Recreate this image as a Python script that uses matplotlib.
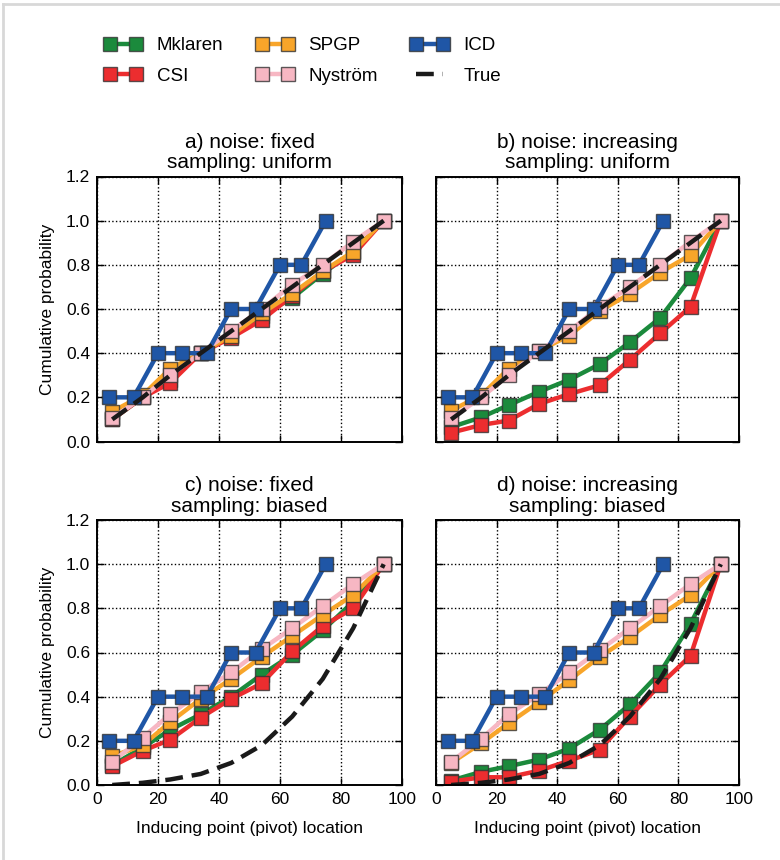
import matplotlib
matplotlib.use("Agg")
import matplotlib.pyplot as plt
from matplotlib.lines import Line2D

plt.rcParams['font.family'] = ['Liberation Sans', 'DejaVu Sans']

# pivot locations
x_piv = [5, 15, 24, 34, 44, 54, 64, 74, 84, 94]
x_icd = [4, 12, 20, 28, 36, 44, 52, 60, 67, 75]

icd = [0.2, 0.2, 0.4, 0.4, 0.4, 0.6, 0.6, 0.8, 0.8, 1.0]
true_unif = [0.1, 0.2, 0.3, 0.4, 0.5, 0.6, 0.7, 0.8, 0.9, 1.0]
true_bias = [0.0, 0.01, 0.025, 0.05, 0.10, 0.18, 0.31, 0.48, 0.71, 1.0]

# a) noise fixed, sampling uniform
mkl_a = [0.10, 0.20, 0.28, 0.40, 0.48, 0.57, 0.65, 0.76, 0.86, 1.0]
csi_a = [0.10, 0.20, 0.265, 0.40, 0.47, 0.55, 0.66, 0.77, 0.845, 1.0]
spgp_a = [0.135, 0.21, 0.33, 0.40, 0.48, 0.58, 0.67, 0.77, 0.86, 1.0]
nys_a = [0.105, 0.20, 0.30, 0.40, 0.50, 0.60, 0.71, 0.80, 0.905, 1.0]

# b) noise increasing, sampling uniform
mkl_b = [0.065, 0.11, 0.165, 0.225, 0.28, 0.35, 0.45, 0.56, 0.74, 1.0]
csi_b = [0.04, 0.075, 0.095, 0.17, 0.215, 0.255, 0.37, 0.49, 0.61, 1.0]
spgp_b = [0.14, 0.21, 0.33, 0.41, 0.48, 0.59, 0.67, 0.765, 0.845, 1.0]
nys_b = [0.105, 0.20, 0.30, 0.41, 0.50, 0.61, 0.70, 0.80, 0.905, 1.0]

# c) noise fixed, sampling biased
mkl_c = [0.09, 0.17, 0.25, 0.32, 0.40, 0.50, 0.59, 0.70, 0.83, 1.0]
csi_c = [0.085, 0.155, 0.205, 0.305, 0.39, 0.46, 0.605, 0.72, 0.80, 1.0]
spgp_c = [0.13, 0.18, 0.285, 0.39, 0.48, 0.58, 0.675, 0.77, 0.86, 1.0]
nys_c = [0.105, 0.215, 0.32, 0.42, 0.51, 0.615, 0.71, 0.81, 0.91, 1.0]

# d) noise increasing, sampling biased
mkl_d = [0.02, 0.06, 0.085, 0.115, 0.165, 0.25, 0.365, 0.51, 0.73, 1.0]
csi_d = [0.015, 0.035, 0.035, 0.065, 0.11, 0.16, 0.31, 0.455, 0.585, 1.0]
spgp_d = [0.10, 0.19, 0.28, 0.375, 0.475, 0.58, 0.67, 0.77, 0.86, 1.0]
nys_d = [0.105, 0.21, 0.32, 0.41, 0.51, 0.61, 0.71, 0.81, 0.91, 1.0]

titles = ['a) noise: fixed\nsampling: uniform', 'b) noise: increasing\nsampling: uniform',
          'c) noise: fixed\nsampling: biased', 'd) noise: increasing\nsampling: biased']

panels = [
    (mkl_a, csi_a, spgp_a, nys_a, true_unif),
    (mkl_b, csi_b, spgp_b, nys_b, true_unif),
    (mkl_c, csi_c, spgp_c, nys_c, true_bias),
    (mkl_d, csi_d, spgp_d, nys_d, true_bias),
]

names = ['Mklaren', 'CSI', 'SPGP', 'Nyström', 'ICD']
colors = ['#1b8a3c', '#ec2d2f', '#f8a52a', '#f7b7c3', '#1f56a6']

fig = plt.figure(figsize=(7.8, 8.6), dpi=100)

W, H = 780.0, 860.0
rects = [(97, 441.5, 305), (436, 441.5, 303), (97, 785, 305), (436, 785, 303)]

handles = []
for i, (rect, data, title) in enumerate(zip(rects, panels, titles)):
    left, bottom, width = rect
    ax = fig.add_axes([left / W, (H - bottom) / H, width / W, 265 / H])
    mkl, csi, spgp, nys, true = data
    series = [(x_piv, mkl), (x_piv, csi), (x_piv, spgp), (x_piv, nys), (x_icd, icd)]
    hs = []
    for (xs, ys), name, c in zip(series, names, colors):
        h, = ax.plot(xs, ys, '-s', color=c, lw=3.2, ms=9.5, mfc=c,
                     mec=(0.2, 0.2, 0.2, 0.8), mew=1.0, label=name)
        hs.append(h)
    h, = ax.plot(x_piv, true, color='#1a1a1a', lw=3.2, ls='--', dashes=(4, 2), label='True')
    hs.append(h)
    if i == 0:
        handles = hs

    ax.set_xlim(0, 100)
    ax.set_ylim(0, 1.2)
    ax.set_xticks([0, 20, 40, 60, 80, 100])
    ax.set_yticks([0.0, 0.2, 0.4, 0.6, 0.8, 1.0, 1.2])
    ax.set_yticklabels(['%.1f' % v for v in ax.get_yticks()])
    ax.grid(True, ls=':', color='k', lw=1.0)
    ax.tick_params(direction='in', top=True, right=True, length=5, width=1,
                   labelsize=12.5, pad=5)
    for sp in ax.spines.values():
        sp.set_linewidth(1.4)
    ax.set_title(title, fontsize=15, pad=6, linespacing=1.1)
    if i in (0, 1):
        ax.tick_params(labelbottom=False)
    else:
        ax.set_xlabel('Inducing point (pivot) location', fontsize=12.5, labelpad=10)
    if i in (1, 3):
        ax.tick_params(labelleft=False)
    else:
        ax.set_ylabel('Cumulative probability', fontsize=12.5, labelpad=8)

leg = fig.legend(handles, names + ['True'], ncol=3, loc='upper left',
                 bbox_to_anchor=(104 / W, 1 - 37 / H), frameon=False, fontsize=13.5,
                 handlelength=2.0, handletextpad=0.8, columnspacing=1.75,
                 labelspacing=0.72, numpoints=2, borderpad=0, borderaxespad=0)

# light frame around the figure
fig.add_artist(Line2D([3 / W, 3 / W], [0, 1 - 4 / H], transform=fig.transFigure,
                      color='#d8d8d8', lw=2))
fig.add_artist(Line2D([3 / W, 1], [1 - 4 / H, 1 - 4 / H], transform=fig.transFigure,
                      color='#d8d8d8', lw=2))

fig.savefig('out.png', dpi=100)
